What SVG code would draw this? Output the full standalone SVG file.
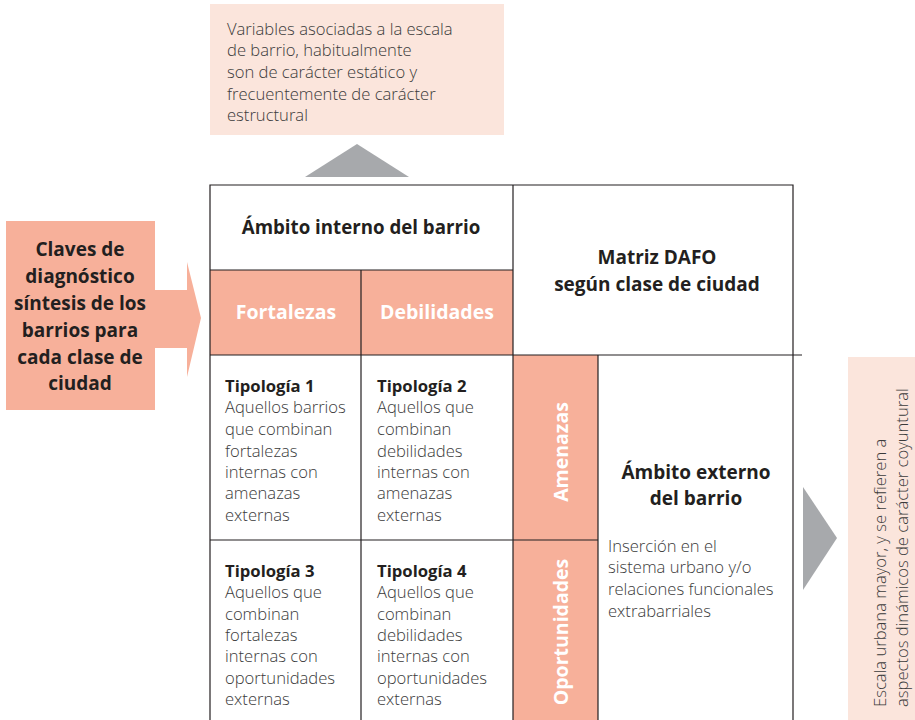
<svg xmlns="http://www.w3.org/2000/svg" width="915" height="720" viewBox="0 0 915 720">
<style>
.t{font-family:"Open Sans","Liberation Sans",sans-serif;fill:#3a3a3a;font-size:16.6px;font-weight:300}
.b{font-family:"Open Sans","Liberation Sans",sans-serif;fill:#231f20;font-weight:700}
.w{font-family:"Open Sans","Liberation Sans",sans-serif;fill:#ffffff;font-weight:700;font-size:19.5px}
.ln{stroke:#231f20;stroke-width:1.2;fill:none}
.sal{fill:#f7b09a}
.pch{fill:#fbe5dc}
.gr{fill:#a7a9ac}
</style>
<rect width="915" height="720" fill="#ffffff"/>
<g id="top-note">
<rect class="pch" x="210" y="4" width="294" height="131"/>
<text class="t" x="227" y="35">Variables asociadas a la escala</text>
<text class="t" x="227" y="56">de barrio, habitualmente</text>
<text class="t" x="227" y="78">son de carácter estático y</text>
<text class="t" x="227" y="100">frecuentemente de carácter</text>
<text class="t" x="227" y="121">estructural</text>
</g>
<g id="right-note">
<rect class="pch" x="848" y="357" width="67" height="363"/>
<text class="t" font-size="17" transform="translate(886,707) rotate(-90)">Escala urbana mayor, y se refieren a</text>
<text class="t" font-size="17" transform="translate(908,707) rotate(-90)">aspectos dinámicos de carácter coyuntural</text>
</g>
<g id="left-key">
<path class="sal" d="M6,221 H155 V290 H187 V262 L201,318 L187,377 V348 H155 V410 H6 Z"/>
<g class="b" font-size="19" text-anchor="middle">
<text x="80" y="256">Claves de</text>
<text x="80" y="283">diagnóstico</text>
<text x="80" y="310">síntesis de los</text>
<text x="80" y="337">barrios para</text>
<text x="80" y="364">cada clase de</text>
<text x="80" y="390">ciudad</text>
</g>
</g>
<g id="matrix-fills">
<rect class="sal" x="210" y="270" width="303" height="85"/>
<rect class="sal" x="513" y="355" width="85" height="365"/>
</g>
<g id="connectors">
<polygon class="gr" points="305,177 357,144 409,177"/>
<polygon class="gr" points="803,487 837,538 803,590"/>
</g>
<g id="grid" class="ln">
<path d="M210,720 V185 H793 V720"/>
<path d="M513,185 V720"/>
<path d="M210,270 H513"/>
<path d="M210,355 H802"/>
<path d="M361,270 V720"/>
<path d="M210,540 H598"/>
<path d="M598,355 V720"/>
</g>
<g id="ambito-interno">
<text class="b" font-size="18.7" x="361" y="234" text-anchor="middle">Ámbito interno del barrio</text>
</g>
<g id="matriz">
<text class="b" font-size="19" x="657" y="264" text-anchor="middle">Matriz DAFO</text>
<text class="b" font-size="19" x="657" y="291" text-anchor="middle">según clase de ciudad</text>
</g>
<g id="fortalezas"><text class="w" x="286" y="319" text-anchor="middle">Fortalezas</text></g>
<g id="debilidades"><text class="w" x="437" y="319" text-anchor="middle">Debilidades</text></g>
<g id="amenazas"><text class="w" transform="translate(568,452) rotate(-90)" text-anchor="middle">Amenazas</text></g>
<g id="oportunidades"><text class="w" transform="translate(568,632) rotate(-90)" text-anchor="middle">Oportunidades</text></g>
<g id="tipologia1">
<text class="b" font-size="16.7" x="225" y="392">Tipología 1</text>
<text class="t" x="225" y="413">Aquellos barrios</text>
<text class="t" x="225" y="435">que combinan</text>
<text class="t" x="225" y="457">fortalezas</text>
<text class="t" x="225" y="478">internas con</text>
<text class="t" x="225" y="499">amenazas</text>
<text class="t" x="225" y="521">externas</text>
</g>
<g id="tipologia2">
<text class="b" font-size="16.7" x="377" y="392">Tipología 2</text>
<text class="t" x="377" y="413">Aquellos que</text>
<text class="t" x="377" y="435">combinan</text>
<text class="t" x="377" y="457">debilidades</text>
<text class="t" x="377" y="478">internas con</text>
<text class="t" x="377" y="499">amenazas</text>
<text class="t" x="377" y="521">externas</text>
</g>
<g id="tipologia3">
<text class="b" font-size="16.7" x="225" y="577">Tipología 3</text>
<text class="t" x="225" y="598">Aquellos que</text>
<text class="t" x="225" y="620">combinan</text>
<text class="t" x="225" y="641">fortalezas</text>
<text class="t" x="225" y="662">internas con</text>
<text class="t" x="225" y="684">oportunidades</text>
<text class="t" x="225" y="705">externas</text>
</g>
<g id="tipologia4">
<text class="b" font-size="16.7" x="377" y="577">Tipología 4</text>
<text class="t" x="377" y="598">Aquellos que</text>
<text class="t" x="377" y="620">combinan</text>
<text class="t" x="377" y="641">debilidades</text>
<text class="t" x="377" y="662">internas con</text>
<text class="t" x="377" y="684">oportunidades</text>
<text class="t" x="377" y="705">externas</text>
</g>
<g id="ambito-externo">
<text class="b" font-size="19" x="696" y="479" text-anchor="middle">Ámbito externo</text>
<text class="b" font-size="19" x="696" y="505" text-anchor="middle">del barrio</text>
<text class="t" x="608" y="552">Inserción en el</text>
<text class="t" x="608" y="573">sistema urbano y/o</text>
<text class="t" x="608" y="595">relaciones funcionales</text>
<text class="t" x="608" y="617">extrabarriales</text>
</g>
</svg>
